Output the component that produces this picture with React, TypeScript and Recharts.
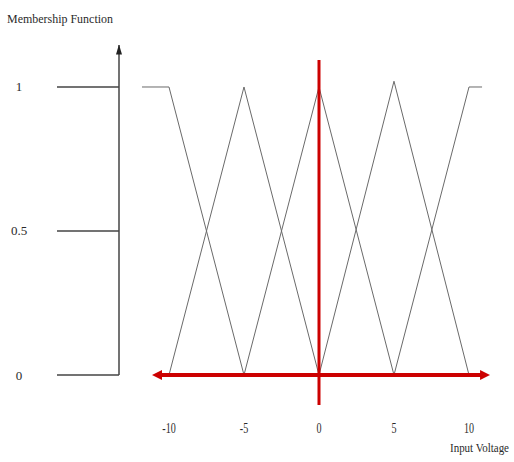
import React from 'react';
import { LineChart, Line, XAxis, YAxis, ReferenceLine } from 'recharts';

// Tick values and labels
const xTicks = [-10, -5, 0, 5, 10];
const xTickLabels = ['-10', '-5', '0', '5', '10'];
const yTicks = [0, 0.5, 1];
const yTickLabels = ['0', '0.5', '1'];

// Membership functions (input voltage -> membership degree)
const nbX = [-11.8, -10, -5];
const nbY = [1, 1, 0];
const nsX = [-10, -5, 0];
const nsY = [0, 1, 0];
const zeX = [-5, 0, 5];
const zeY = [0, 1, 0];
const psX = [0, 5, 10];
const psY = [0, 1.02, 0];
const pbX = [5, 10, 10.87];
const pbY = [0, 1, 1];

const xDomain = [-13.333, 11.4];
const yDomain = [0, 1.1458];

// Red reference axes
const redHX = [-10.6, 10.87];
const redVY = [-0.104, 1.094];

const zip = (xs: number[], ys: number[]) => xs.map((x, i) => ({ x, y: ys[i] }));
const series = [zip(nbX, nbY), zip(nsX, nsY), zip(zeX, zeY), zip(psX, psY), zip(pbX, pbY)];

const FONT = '"Liberation Serif", "Times New Roman", serif';
const TEXT = '#2a2a2a';
const RED = '#cc0000';

const XTick = (props: any) => {
  const { x, y, payload } = props;
  const label = xTickLabels[xTicks.indexOf(payload.value)];
  return (
    <text transform={`translate(${x},${y}) scale(0.72,1)`} textAnchor="middle" fontSize={14} fill={TEXT} fontFamily={FONT}>
      {label}
    </text>
  );
};

const YTick = (props: any) => {
  const { y, payload } = props;
  const label = yTickLabels[yTicks.indexOf(payload.value)];
  return (
    <text x={19} y={y} dy={4.5} textAnchor="middle" fontSize={13} fill={TEXT} fontFamily={FONT}>
      {label}
    </text>
  );
};

export default function App() {
  return (
    <div style={{ position: 'absolute', left: 0, top: 0, background: '#fff' }}>
      <LineChart width={514} height={462} margin={{ top: 45, right: 24, bottom: 0, left: 0 }}>
        <defs>
          <marker id="redArrow" viewBox="0 0 10 10" refX="2" refY="5" markerWidth="10" markerHeight="10"
            markerUnits="userSpaceOnUse" orient="auto-start-reverse">
            <path d="M0,0 L10,5 L0,10 z" fill={RED} />
          </marker>
          <marker id="yArrow" viewBox="0 0 10 6" refX="9.5" refY="3" markerWidth="10" markerHeight="6"
            markerUnits="userSpaceOnUse" orient="auto-start-reverse">
            <path d="M0,0 L10,3 L0,6 z" fill="#222" />
          </marker>
        </defs>
        <XAxis
          type="number"
          dataKey="x"
          domain={xDomain}
          ticks={xTicks}
          interval={0}
          axisLine={false}
          tickLine={false}
          tickSize={0}
          tickMargin={58}
          height={87}
          tick={<XTick />}
        />
        <YAxis
          type="number"
          domain={yDomain}
          ticks={yTicks}
          interval={0}
          width={119}
          tickSize={62}
          tickMargin={0}
          axisLine={{ stroke: '#444', strokeWidth: 1.5, markerStart: 'url(#yArrow)' }}
          tickLine={{ stroke: '#444', strokeWidth: 1.5 }}
          tick={<YTick />}
        />
        {series.map((d, i) => (
          <Line
            key={i}
            data={d}
            dataKey="y"
            type="linear"
            stroke="#6a6a6a"
            strokeWidth={1}
            dot={false}
            activeDot={false}
            isAnimationActive={false}
          />
        ))}
        <ReferenceLine
          segment={[{ x: redHX[0], y: 0 }, { x: redHX[1], y: 0 }]}
          ifOverflow="visible"
          stroke={RED}
          strokeWidth={4}
          shape={(p: any) => (
            <line x1={p.x1} y1={p.y1} x2={p.x2} y2={p.y2} stroke={RED} strokeWidth={4}
              markerStart="url(#redArrow)" markerEnd="url(#redArrow)" />
          )}
        />
        <ReferenceLine
          segment={[{ x: 0, y: redVY[0] }, { x: 0, y: redVY[1] }]}
          ifOverflow="visible"
          stroke={RED}
          strokeWidth={3}
        />
        <text x={7} y={23} fontFamily={FONT} fontSize={13} fill={TEXT} textLength={106} lengthAdjust="spacingAndGlyphs">
          Membership Function
        </text>
        <text x={450} y={452} fontFamily={FONT} fontSize={12} fill={TEXT} textLength={59} lengthAdjust="spacingAndGlyphs">
          Input Voltage
        </text>
      </LineChart>
    </div>
  );
}
